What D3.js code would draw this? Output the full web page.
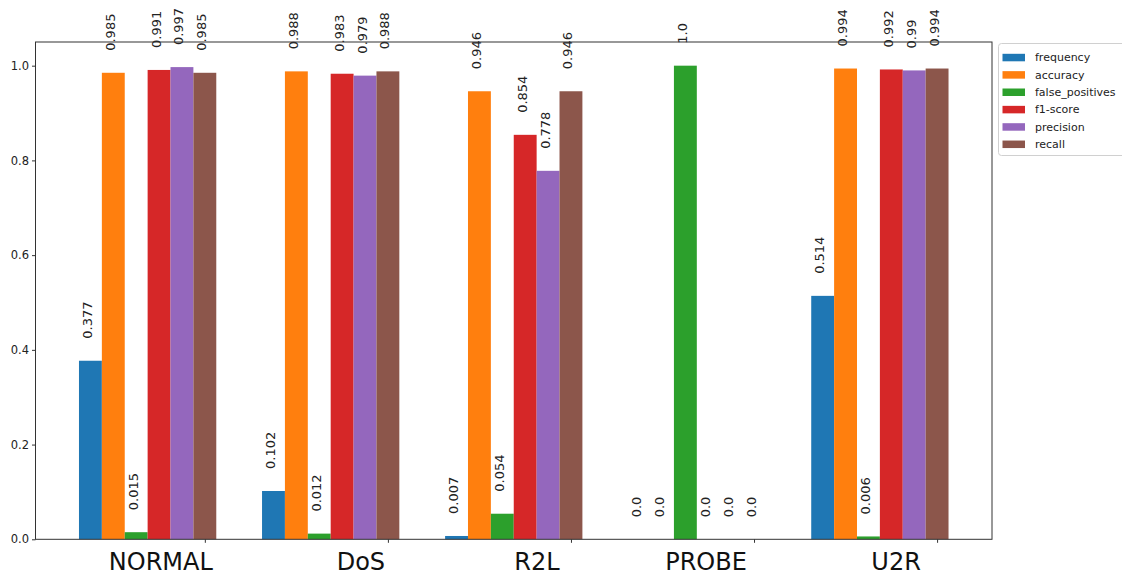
<!DOCTYPE html>
<html><head><meta charset="utf-8">
<script src="https://cdn.jsdelivr.net/npm/d3@7"></script>
<style>body{margin:0;background:#fff}svg{display:block}text{font-family:"DejaVu Sans",sans-serif}</style>
</head><body><svg id="c" width="1122" height="575"></svg>
<script>
const categories = ["NORMAL", "DoS", "R2L", "PROBE", "U2R"];
const seriesNames = ["frequency", "accuracy", "false_positives", "f1-score", "precision", "recall"];
const frequency = [0.377, 0.102, 0.007, 0.0, 0.514];
const accuracy = [0.985, 0.988, 0.946, 0.0, 0.994];
const falsePositives = [0.015, 0.012, 0.054, 1.0, 0.006];
const f1Score = [0.991, 0.983, 0.854, 0.0, 0.992];
const precision = [0.997, 0.979, 0.778, 0.0, 0.99];
const recall = [0.985, 0.988, 0.946, 0.0, 0.994];
const yTicks = [0.0, 0.2, 0.4, 0.6, 0.8, 1.0];
const colors = ["#1f77b4", "#ff7f0e", "#2ca02c", "#d62728", "#9467bd", "#8c564b"];
const labelShift = [-44, -27, -34, -48, -41];

const series = [frequency, accuracy, falsePositives, f1Score, precision, recall];
const svg = d3.select("#c");
const L = 35.5, R = 992, T = 42, B = 539.3;
const barW = 0.125;
const x = d3.scaleLinear().domain([-0.925, 4.3]).range([L, R]);
const y = d3.scaleLinear().domain([0, 1.05]).range([B, T]);
const fmt = v => Number.isInteger(v) ? v.toFixed(1) : String(v);

// bars
series.forEach((vals, k) => {
  const g = svg.append("g").attr("fill", colors[k]);
  vals.forEach((v, i) => {
    const xc = i + (k - 5) * barW;
    g.append("rect")
      .attr("x", x(xc - barW / 2))
      .attr("width", x(xc + barW / 2) - x(xc - barW / 2))
      .attr("y", y(v))
      .attr("height", y(0) - y(v));
  });
});

// value labels
series.forEach((vals, k) => {
  vals.forEach((v, i) => {
    const xc = x(i + (k - 5) * barW) + 1.5;
    const yb = y(v) - 22;
    svg.append("text")
      .attr("transform", `translate(${xc},${yb}) rotate(-90)`)
      .attr("font-size", 13).attr("fill", "#222")
      .text(fmt(v));
  });
});

// spines
svg.append("rect").attr("x", L).attr("y", T).attr("width", R - L).attr("height", B - T)
  .attr("fill", "none").attr("stroke", "#333").attr("stroke-width", 1);

// y axis
const yAxis = d3.axisLeft(y).tickValues(yTicks).tickFormat(d3.format(".1f")).tickSize(3.5).tickPadding(3);
const ga = svg.append("g").attr("transform", `translate(${L},0)`).call(yAxis);
ga.select(".domain").remove();
ga.selectAll("line").attr("stroke", "#333");
ga.selectAll("text").attr("font-size", 11.5).attr("fill", "#222").style("font-family", "DejaVu Sans");

// x axis
const xAxis = d3.axisBottom(x).tickValues(d3.range(categories.length)).tickFormat("").tickSize(3.5);
const gx = svg.append("g").attr("transform", `translate(0,${B})`).call(xAxis);
gx.select(".domain").remove();
gx.selectAll("line").attr("stroke", "#333");
categories.forEach((c, i) => {
  svg.append("text").attr("x", x(i) + labelShift[i]).attr("y", 569.5)
    .attr("text-anchor", "middle").attr("font-size", 24).attr("fill", "#111").text(c);
});

// legend
const lg = svg.append("g");
lg.append("rect").attr("x", 998.5).attr("y", 43.5).attr("width", 140).attr("height", 112)
  .attr("rx", 3).attr("fill", "#fff").attr("stroke", "#d0d0d0");
seriesNames.forEach((n, k) => {
  const yc = 57.3 + k * 17.35;
  lg.append("rect").attr("x", 1002.5).attr("y", yc - 3.5).attr("width", 22.5).attr("height", 7.5).attr("fill", colors[k]);
  lg.append("text").attr("x", 1035).attr("y", yc + 4).attr("font-size", 11).attr("fill", "#222").text(n);
});
</script></body></html>
